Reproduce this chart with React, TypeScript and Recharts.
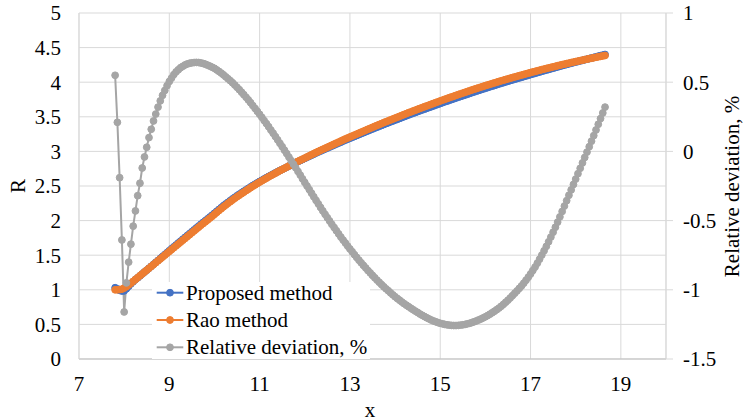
import React from 'react';
import { ComposedChart, Line, XAxis, YAxis, CartesianGrid, Legend } from 'recharts';

// x (category) values, step 0.05
const xValues = [
  7.80, 7.85, 7.90, 7.95, 8.00, 8.05, 8.10, 8.15, 8.20, 8.25,
  8.30, 8.35, 8.40, 8.45, 8.50, 8.55, 8.60, 8.65, 8.70, 8.75,
  8.80, 8.85, 8.90, 8.95, 9.00, 9.05, 9.10, 9.15, 9.20, 9.25,
  9.30, 9.35, 9.40, 9.45, 9.50, 9.55, 9.60, 9.65, 9.70, 9.75,
  9.80, 9.85, 9.90, 9.95, 10.00, 10.05, 10.10, 10.15, 10.20, 10.25,
  10.30, 10.35, 10.40, 10.45, 10.50, 10.55, 10.60, 10.65, 10.70, 10.75,
  10.80, 10.85, 10.90, 10.95, 11.00, 11.05, 11.10, 11.15, 11.20, 11.25,
  11.30, 11.35, 11.40, 11.45, 11.50, 11.55, 11.60, 11.65, 11.70, 11.75,
  11.80, 11.85, 11.90, 11.95, 12.00, 12.05, 12.10, 12.15, 12.20, 12.25,
  12.30, 12.35, 12.40, 12.45, 12.50, 12.55, 12.60, 12.65, 12.70, 12.75,
  12.80, 12.85, 12.90, 12.95, 13.00, 13.05, 13.10, 13.15, 13.20, 13.25,
  13.30, 13.35, 13.40, 13.45, 13.50, 13.55, 13.60, 13.65, 13.70, 13.75,
  13.80, 13.85, 13.90, 13.95, 14.00, 14.05, 14.10, 14.15, 14.20, 14.25,
  14.30, 14.35, 14.40, 14.45, 14.50, 14.55, 14.60, 14.65, 14.70, 14.75,
  14.80, 14.85, 14.90, 14.95, 15.00, 15.05, 15.10, 15.15, 15.20, 15.25,
  15.30, 15.35, 15.40, 15.45, 15.50, 15.55, 15.60, 15.65, 15.70, 15.75,
  15.80, 15.85, 15.90, 15.95, 16.00, 16.05, 16.10, 16.15, 16.20, 16.25,
  16.30, 16.35, 16.40, 16.45, 16.50, 16.55, 16.60, 16.65, 16.70, 16.75,
  16.80, 16.85, 16.90, 16.95, 17.00, 17.05, 17.10, 17.15, 17.20, 17.25,
  17.30, 17.35, 17.40, 17.45, 17.50, 17.55, 17.60, 17.65, 17.70, 17.75,
  17.80, 17.85, 17.90, 17.95, 18.00, 18.05, 18.10, 18.15, 18.20, 18.25,
  18.30, 18.35, 18.40, 18.45, 18.50, 18.55, 18.60, 18.65,
];

// Proposed method, R
const proposedValues = [
  1.030, 1.012, 0.993, 0.982, 0.985, 1.015, 1.050, 1.086, 1.118, 1.149,
  1.173, 1.201, 1.229, 1.257, 1.284, 1.312, 1.340, 1.368, 1.396, 1.424,
  1.453, 1.481, 1.509, 1.537, 1.565, 1.593, 1.621, 1.648, 1.676, 1.703,
  1.731, 1.758, 1.785, 1.812, 1.839, 1.867, 1.894, 1.921, 1.948, 1.974,
  2.000, 2.026, 2.052, 2.078, 2.106, 2.134, 2.161, 2.188, 2.215, 2.240,
  2.264, 2.289, 2.313, 2.336, 2.359, 2.381, 2.402, 2.424, 2.445, 2.466,
  2.486, 2.507, 2.526, 2.546, 2.565, 2.583, 2.602, 2.620, 2.638, 2.655,
  2.673, 2.690, 2.707, 2.724, 2.740, 2.756, 2.772, 2.789, 2.805, 2.821,
  2.837, 2.853, 2.868, 2.883, 2.899, 2.914, 2.930, 2.945, 2.960, 2.976,
  2.991, 3.005, 3.020, 3.034, 3.048, 3.063, 3.077, 3.091, 3.106, 3.120,
  3.134, 3.149, 3.163, 3.177, 3.190, 3.203, 3.217, 3.230, 3.243, 3.257,
  3.270, 3.284, 3.297, 3.311, 3.324, 3.337, 3.350, 3.363, 3.376, 3.389,
  3.402, 3.414, 3.427, 3.439, 3.452, 3.464, 3.477, 3.489, 3.502, 3.514,
  3.527, 3.539, 3.551, 3.563, 3.575, 3.587, 3.599, 3.610, 3.622, 3.634,
  3.645, 3.657, 3.669, 3.680, 3.692, 3.704, 3.716, 3.726, 3.738, 3.749,
  3.760, 3.772, 3.783, 3.794, 3.804, 3.815, 3.826, 3.837, 3.848, 3.859,
  3.870, 3.881, 3.891, 3.902, 3.912, 3.922, 3.933, 3.943, 3.953, 3.963,
  3.974, 3.984, 3.993, 4.004, 4.013, 4.024, 4.033, 4.043, 4.052, 4.062,
  4.071, 4.081, 4.090, 4.100, 4.110, 4.119, 4.128, 4.138, 4.147, 4.157,
  4.166, 4.175, 4.184, 4.193, 4.202, 4.212, 4.221, 4.230, 4.239, 4.248,
  4.257, 4.265, 4.274, 4.283, 4.291, 4.299, 4.308, 4.316, 4.324, 4.333,
  4.341, 4.350, 4.358, 4.367, 4.376, 4.383, 4.392, 4.400,
];

// Rao method, R
const raoValues = [
  1.000, 1.000, 1.003, 1.010, 1.025, 1.045, 1.070, 1.096, 1.122, 1.149,
  1.176, 1.203, 1.230, 1.257, 1.284, 1.311, 1.338, 1.365, 1.392, 1.419,
  1.446, 1.473, 1.500, 1.527, 1.554, 1.581, 1.608, 1.635, 1.662, 1.689,
  1.716, 1.743, 1.770, 1.797, 1.824, 1.851, 1.878, 1.905, 1.932, 1.958,
  1.984, 2.010, 2.036, 2.062, 2.090, 2.118, 2.145, 2.172, 2.199, 2.224,
  2.249, 2.274, 2.298, 2.322, 2.345, 2.367, 2.389, 2.411, 2.433, 2.454,
  2.475, 2.496, 2.516, 2.536, 2.556, 2.575, 2.594, 2.613, 2.632, 2.650,
  2.668, 2.686, 2.704, 2.722, 2.739, 2.756, 2.773, 2.790, 2.807, 2.824,
  2.840, 2.856, 2.872, 2.888, 2.904, 2.920, 2.936, 2.952, 2.968, 2.984,
  3.000, 3.015, 3.030, 3.045, 3.060, 3.075, 3.090, 3.105, 3.120, 3.135,
  3.150, 3.165, 3.180, 3.194, 3.208, 3.222, 3.236, 3.250, 3.264, 3.278,
  3.292, 3.306, 3.320, 3.334, 3.348, 3.362, 3.375, 3.389, 3.402, 3.416,
  3.429, 3.442, 3.455, 3.468, 3.481, 3.494, 3.507, 3.520, 3.533, 3.546,
  3.559, 3.571, 3.584, 3.596, 3.609, 3.621, 3.633, 3.645, 3.657, 3.669,
  3.681, 3.693, 3.705, 3.717, 3.729, 3.741, 3.753, 3.764, 3.776, 3.787,
  3.798, 3.810, 3.821, 3.832, 3.843, 3.854, 3.865, 3.876, 3.887, 3.898,
  3.908, 3.919, 3.929, 3.940, 3.950, 3.960, 3.970, 3.980, 3.990, 4.000,
  4.010, 4.020, 4.029, 4.039, 4.048, 4.058, 4.067, 4.076, 4.085, 4.094,
  4.103, 4.112, 4.121, 4.130, 4.139, 4.148, 4.156, 4.165, 4.173, 4.182,
  4.190, 4.198, 4.206, 4.214, 4.222, 4.230, 4.238, 4.246, 4.254, 4.261,
  4.269, 4.276, 4.284, 4.291, 4.298, 4.305, 4.312, 4.319, 4.326, 4.333,
  4.340, 4.347, 4.353, 4.360, 4.367, 4.373, 4.380, 4.386,
];

// Relative deviation, %
const deviationValues = [
  0.55, 0.21, -0.19, -0.64, -1.16, -0.95, -0.80, -0.67, -0.54, -0.43,
  -0.32, -0.23, -0.12, -0.04, 0.03, 0.10, 0.16, 0.22, 0.27, 0.32,
  0.365, 0.405, 0.44, 0.475, 0.505, 0.53, 0.555, 0.575, 0.59, 0.605,
  0.615, 0.625, 0.632, 0.637, 0.640, 0.642, 0.643, 0.642, 0.639, 0.635,
  0.630, 0.623, 0.616, 0.608, 0.600, 0.589, 0.578, 0.566, 0.553, 0.539,
  0.525, 0.511, 0.496, 0.480, 0.463, 0.446, 0.428, 0.410, 0.391, 0.372,
  0.352, 0.331, 0.310, 0.289, 0.268, 0.246, 0.223, 0.201, 0.178, 0.154,
  0.131, 0.107, 0.083, 0.058, 0.034, 0.009, -0.016, -0.042, -0.067, -0.093,
  -0.119, -0.145, -0.171, -0.198, -0.224, -0.250, -0.276, -0.302, -0.328, -0.354,
  -0.379, -0.405, -0.430, -0.455, -0.479, -0.503, -0.527, -0.550, -0.573, -0.596,
  -0.619, -0.641, -0.662, -0.684, -0.705, -0.725, -0.746, -0.766, -0.786, -0.805,
  -0.824, -0.842, -0.861, -0.878, -0.896, -0.913, -0.930, -0.946, -0.962, -0.978,
  -0.993, -1.007, -1.022, -1.036, -1.050, -1.063, -1.075, -1.088, -1.100, -1.111,
  -1.122, -1.133, -1.144, -1.154, -1.164, -1.175, -1.184, -1.193, -1.202, -1.210,
  -1.218, -1.225, -1.231, -1.237, -1.242, -1.246, -1.250, -1.253, -1.255, -1.257,
  -1.258, -1.258, -1.257, -1.255, -1.253, -1.250, -1.246, -1.242, -1.237, -1.231,
  -1.225, -1.218, -1.211, -1.203, -1.195, -1.186, -1.176, -1.166, -1.155, -1.144,
  -1.132, -1.119, -1.105, -1.090, -1.075, -1.059, -1.042, -1.025, -1.008, -0.990,
  -0.972, -0.952, -0.931, -0.909, -0.886, -0.861, -0.836, -0.808, -0.779, -0.749,
  -0.718, -0.686, -0.653, -0.619, -0.584, -0.548, -0.511, -0.473, -0.434, -0.395,
  -0.356, -0.317, -0.278, -0.239, -0.200, -0.161, -0.122, -0.083, -0.044, -0.005,
  0.034, 0.074, 0.114, 0.155, 0.196, 0.237, 0.278, 0.320,
];

const xTicks = [7, 9, 11, 13, 15, 17, 19];
const rTicks = [0, 0.5, 1, 1.5, 2, 2.5, 3, 3.5, 4, 4.5, 5];
const devTicks = [-1.5, -1, -0.5, 0, 0.5, 1];

const seriesNames = ['Proposed method', 'Rao method', 'Relative deviation, %'];
const seriesColors = ['#4472C4', '#ED7D31', '#A5A5A5'];

const data = xValues.map((x, i) => ({
  x,
  proposed: proposedValues[i],
  rao: raoValues[i],
  dev: deviationValues[i],
}));

const FONT = '"Liberation Serif", "Times New Roman", serif';
const FS = 21;
const tickStyle = { fontFamily: FONT, fontSize: FS, fill: '#000' };

const renderLegend = () => (
  <svg width={218} height={77} style={{ display: 'block' }}>
    <rect x={0} y={0} width={218} height={77} fill="#fff" />
    {seriesNames.map((name, i) => {
      const cy = 10.7 + i * 27.3;
      return (
        <g key={name}>
          <line x1={4.7} x2={31.3} y1={cy} y2={cy} stroke={seriesColors[i]} strokeWidth={2} />
          <circle cx={18} cy={cy} r={3.4} fill={seriesColors[i]} stroke={seriesColors[i]} strokeWidth={1} />
          <text x={34} y={cy + 6.8} fontFamily={FONT} fontSize={FS} fill="#000">{name}</text>
        </g>
      );
    })}
  </svg>
);

const xTitle = () => (
  <text x={370} y={416.5} textAnchor="middle" fontFamily={FONT} fontSize={FS} fill="#000">x</text>
);
const rTitle = () => (
  <text x={25} y={186} transform="rotate(-90 25 186)" textAnchor="middle" fontFamily={FONT} fontSize={FS} fill="#000">R</text>
);
const devTitle = () => (
  <text x={739} y={186.5} transform="rotate(-90 739 186.5)" textAnchor="middle" fontFamily={FONT} fontSize={FS} fill="#000">Relative deviation, %</text>
);

const dotOf = (c: string) => ({ r: 3.4, fill: c, stroke: c, strokeWidth: 1 });

export default function App() {
  return (
    <div style={{ position: 'absolute', left: 0, top: 0, width: 752, height: 420, background: '#fff' }}>
      <ComposedChart
        width={752}
        height={420}
        data={data}
        margin={{ top: 13, right: 26, bottom: 21, left: 19 }}
      >
        <CartesianGrid yAxisId="left" stroke="#D9D9D9" strokeWidth={1} />
        <XAxis
          type="number"
          dataKey="x"
          domain={[7, 20]}
          ticks={xTicks}
          interval={0}
          height={40}
          tickLine={false}
          tickSize={6}
          tickMargin={11}
          axisLine={{ stroke: '#BFBFBF', strokeWidth: 1 }}
          tick={tickStyle}
          label={xTitle}
        />
        <YAxis
          yAxisId="left"
          domain={[0, 5]}
          ticks={rTicks}
          interval={0}
          width={60}
          tickLine={false}
          tickSize={6}
          tickMargin={12}
          axisLine={{ stroke: '#D9D9D9', strokeWidth: 1 }}
          tick={tickStyle}
          label={rTitle}
        />
        <YAxis
          yAxisId="right"
          orientation="right"
          domain={[-1.5, 1]}
          ticks={devTicks}
          interval={0}
          width={60}
          tickLine={{ stroke: '#D9D9D9', strokeWidth: 1 }}
          tickSize={7}
          tickMargin={10}
          axisLine={{ stroke: '#D9D9D9', strokeWidth: 1 }}
          tick={tickStyle}
          label={devTitle}
        />
        <Line
          yAxisId="left"
          dataKey="proposed"
          name={seriesNames[0]}
          stroke={seriesColors[0]}
          strokeWidth={2}
          dot={dotOf(seriesColors[0])}
          activeDot={false}
          isAnimationActive={false}
        />
        <Line
          yAxisId="left"
          dataKey="rao"
          name={seriesNames[1]}
          stroke={seriesColors[1]}
          strokeWidth={2}
          dot={dotOf(seriesColors[1])}
          activeDot={false}
          isAnimationActive={false}
        />
        <Line
          yAxisId="right"
          dataKey="dev"
          name={seriesNames[2]}
          stroke={seriesColors[2]}
          strokeWidth={2}
          dot={dotOf(seriesColors[2])}
          activeDot={false}
          isAnimationActive={false}
        />
        <Legend
          layout="vertical"
          align="center"
          verticalAlign="middle"
          content={renderLegend}
          wrapperStyle={{ position: 'absolute', left: 152, top: 282, width: 218, height: 77 }}
        />
      </ComposedChart>
    </div>
  );
}
